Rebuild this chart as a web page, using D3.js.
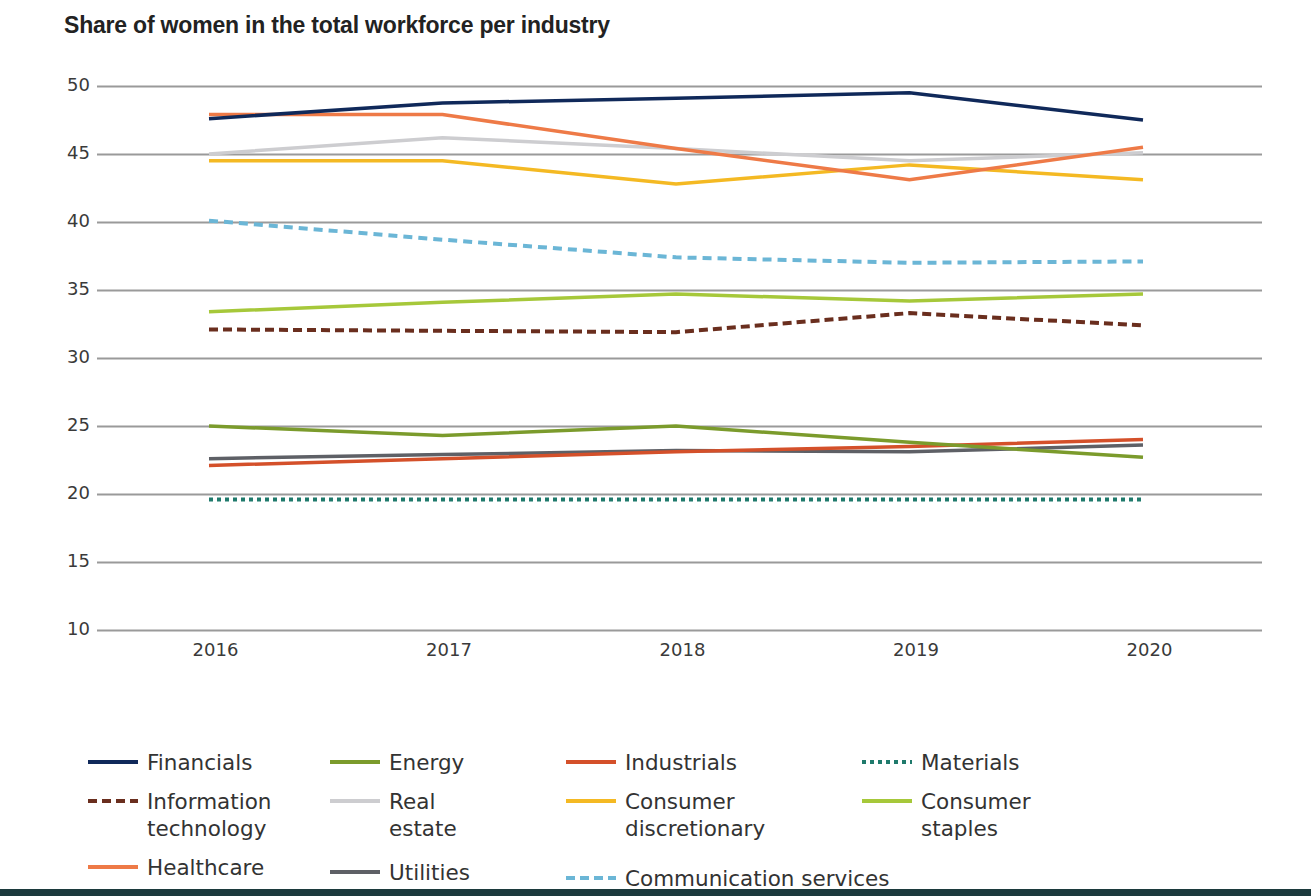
<!DOCTYPE html>
<html>
<head>
<meta charset="utf-8">
<script src="https://cdn.jsdelivr.net/npm/d3@7"></script>
<style>
  body { margin: 0; background: #fff; }
  svg { display: block; }
</style>
</head>
<body>
<div id="chart"></div>
<script>
"use strict";

// data
var years = ["2016", "2017", "2018", "2019", "2020"];
var yTicks = [10, 15, 20, 25, 30, 35, 40, 45, 50];

var financials = [47.6, 48.75, 49.1, 49.5, 47.5];
var healthcare = [47.9, 47.9, 45.4, 43.1, 45.5];
var realEstate = [45.0, 46.2, 45.4, 44.5, 45.1];
var consumerDiscretionary = [44.5, 44.5, 42.8, 44.2, 43.1];
var communicationServices = [40.1, 38.7, 37.4, 37.0, 37.1];
var consumerStaples = [33.4, 34.1, 34.7, 34.2, 34.7];
var informationTechnology = [32.1, 32.0, 31.9, 33.3, 32.4];
var energy = [25.0, 24.3, 25.0, 23.8, 22.7];
var utilities = [22.6, 22.9, 23.2, 23.1, 23.6];
var industrials = [22.1, 22.6, 23.1, 23.5, 24.0];
var materials = [19.6, 19.6, 19.6, 19.6, 19.6];

var series = [
  { name: "Financials", values: financials, color: "#10295a", dash: null },
  { name: "Energy", values: energy, color: "#7b9b2c", dash: null },
  { name: "Industrials", values: industrials, color: "#d4502a", dash: null },
  { name: "Materials", values: materials, color: "#1f7a6c", dash: "4,4" },
  { name: "Information\ntechnology", values: informationTechnology, color: "#6a2e1e", dash: "9,5" },
  { name: "Real\nestate", values: realEstate, color: "#cdcdd0", dash: null },
  { name: "Consumer\ndiscretionary", values: consumerDiscretionary, color: "#f4b923", dash: null },
  { name: "Consumer\nstaples", values: consumerStaples, color: "#a6c83a", dash: null },
  { name: "Healthcare", values: healthcare, color: "#ee7a47", dash: null },
  { name: "Utilities", values: utilities, color: "#5e6066", dash: null },
  { name: "Communication services", values: communicationServices, color: "#6bb6d6", dash: "9,6" }
];

// draw order, back to front
var drawOrder = [
  "Materials", "Utilities", "Industrials", "Energy", "Information\ntechnology",
  "Consumer\nstaples", "Communication services", "Consumer\ndiscretionary",
  "Real\nestate", "Healthcare", "Financials"
];

var width = 1311;
var height = 896;

var svg = d3
  .select("#chart")
  .append("svg")
  .attr("width", width)
  .attr("height", height);

svg
  .append("text")
  .text("Share of women in the total workforce per industry")
  .attr("x", 64)
  .attr("y", 33)
  .style("font-family", "Liberation Sans, Arial, sans-serif")
  .style("font-weight", "bold")
  .style("font-size", "23px")
  .style("letter-spacing", "-0.2px")
  .style("fill", "#222");

var x = d3.scalePoint().domain(years).range([209, 1143]);
var y = d3.scaleLinear().domain([10, 50]).range([630, 86]);

// gridlines + y labels
var yAxis = d3
  .axisLeft(y)
  .tickValues(yTicks)
  .tickSize(-(1262 - 97))
  .tickPadding(7);

var gy = svg
  .append("g")
  .attr("transform", "translate(97,0)")
  .call(yAxis);
gy.select(".domain").remove();
gy.selectAll(".tick line")
  .attr("stroke", "#9a9a9a")
  .attr("stroke-width", 2);
gy.selectAll(".tick text")
  .attr("dy", "0.25em")
  .style("font-family", "DejaVu Sans, sans-serif")
  .style("font-size", "18px")
  .style("fill", "#3a3a3a");

// x labels
var xAxis = d3.axisBottom(x).tickSize(0).tickPadding(13);
var gx = svg
  .append("g")
  .attr("transform", "translate(6,630)")
  .call(xAxis);
gx.select(".domain").remove();
gx.selectAll(".tick text")
  .style("font-family", "DejaVu Sans, sans-serif")
  .style("font-size", "18px")
  .style("fill", "#3a3a3a");

var line = d3
  .line()
  .x(function(d, i) {
    return x(years[i]);
  })
  .y(function(d) {
    return y(d);
  });

drawOrder.forEach(function(name) {
  var s = series.filter(function(d) {
    return d.name === name;
  })[0];
  svg
    .append("path")
    .datum(s.values)
    .attr("d", line)
    .attr("fill", "none")
    .attr("stroke", s.color)
    .attr("stroke-width", s.dash ? 4 : 3.5)
    .attr("stroke-dasharray", s.dash);
});

// legend
var colX = [88, 330, 566, 862];
var rowY = [763, 802, 868];
var rowYOverride = { "Utilities": 873, "Communication services": 879 };

var legend = svg.append("g");
series.forEach(function(s, i) {
  var cx = colX[i % 4];
  var ry = rowY[Math.floor(i / 4)];
  if (rowYOverride[s.name]) {
    ry = rowYOverride[s.name];
  }
  legend
    .append("line")
    .attr("x1", cx)
    .attr("x2", cx + 50)
    .attr("y1", ry - 1)
    .attr("y2", ry - 1)
    .attr("stroke", s.color)
    .attr("stroke-width", 4)
    .attr("stroke-dasharray", s.dash ? (s.name === "Materials" ? "4,4" : "9,5") : null);
  var t = legend
    .append("text")
    .attr("x", cx + 59)
    .attr("y", ry + 7)
    .style("font-family", "DejaVu Sans, sans-serif")
    .style("font-size", "21.5px")
    .style("fill", "#333");
  s.name.split("\n").forEach(function(part, j) {
    t.append("tspan")
      .attr("x", cx + 59)
      .attr("dy", j === 0 ? 0 : 27)
      .text(part);
  });
});

// dark strip at the bottom of the screenshot
svg
  .append("rect")
  .attr("x", 0)
  .attr("y", 889)
  .attr("width", width)
  .attr("height", 7)
  .style("fill", "#1c3a3d");
</script>
</body>
</html>
